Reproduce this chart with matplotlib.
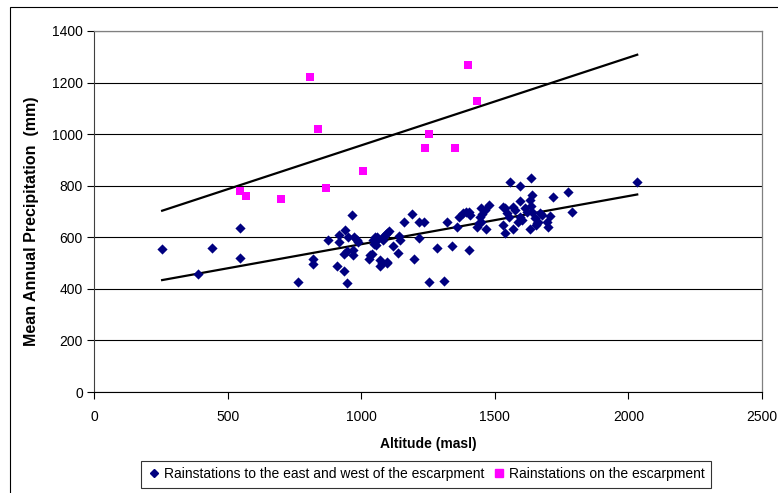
import matplotlib
matplotlib.use("Agg")
import matplotlib.pyplot as plt
from matplotlib.patches import Rectangle
from matplotlib.lines import Line2D

plt.rcParams['font.family'] = ['Liberation Sans', 'DejaVu Sans']

# Rainstations to the east and west of the escarpment
other_alt = [255, 390, 440, 546, 546, 763, 821, 821, 877, 908, 918, 918, 937, 941, 948,
             936, 948, 952, 966, 970, 970, 974, 983, 989,
             1029, 1033, 1039, 1045, 1052, 1058, 1048, 1055, 1060, 1070, 1070, 1077, 1095,
             1098, 1083, 1089, 1098, 1105, 1083, 1120, 1139, 1145, 1143,
             1160, 1189, 1196, 1218, 1218, 1235, 1252, 1282, 1311, 1320, 1341, 1357, 1366,
             1382, 1392, 1405, 1407, 1403, 1432, 1442, 1445, 1451, 1448, 1463, 1479, 1467, 1447,
             1529, 1538, 1544, 1554, 1532, 1538, 1569, 1567, 1576, 1594, 1600, 1588, 1594,
             1612, 1621, 1634, 1632, 1638, 1638, 1650, 1654, 1669, 1663, 1676, 1694, 1700,
             1707, 1719, 1632, 1659, 1557, 1594, 1634, 1773, 1788, 2033]
other_prec = [555, 458, 558, 637, 520, 427, 515, 495, 590, 490, 607, 580, 470, 628, 423,
              536, 545, 602, 686, 531, 551, 600, 589, 580,
              516, 531, 534, 589, 600, 602, 573, 570, 590, 512, 489, 499, 499,
              505, 600, 609, 618, 624, 589, 566, 540, 589, 605,
              658, 689, 516, 596, 658, 658, 428, 557, 431, 658, 566, 641, 677,
              693, 697, 699, 686, 551, 641, 654, 680, 689, 715, 706, 725, 631, 660,
              718, 712, 695, 680, 648, 618, 631, 718, 706, 742, 667, 658, 680,
              712, 699, 721, 744, 764, 699, 673, 647, 693, 660, 686, 660, 641,
              682, 757, 634, 654, 813, 800, 829, 777, 697, 813]

# Rainstations on the escarpment
esc_alt = [808, 1400, 1433, 838, 1252, 1240, 1350, 1007, 546, 569, 700, 868]
esc_prec = [1220, 1270, 1130, 1020, 1000, 948, 948, 856, 780, 760, 750, 790]

# Trend lines (end points)
trend_alt = [255, 2033]
esc_trend = [703, 1308]
other_trend = [434, 766]

x_ticks = [0, 500, 1000, 1500, 2000, 2500]
y_ticks = [0, 200, 400, 600, 800, 1000, 1200, 1400]

W, H = 778, 493
fig = plt.figure(figsize=(W / 100, H / 100), dpi=100)
fig.patch.set_facecolor('white')

L, R, T, B = 94, 762, 31, 392
ax = fig.add_axes([L / W, 1 - B / H, (R - L) / W, (B - T) / H])

ax.set_xlim(0, 2500)
ax.set_ylim(0, 1400)
ax.set_xticks(x_ticks)
ax.set_yticks(y_ticks)
ax.grid(axis='y', color='black', linewidth=0.8)
ax.set_axisbelow(True)

ax.plot(trend_alt, esc_trend, color='black', linewidth=1.6, zorder=2)
ax.plot(trend_alt, other_trend, color='black', linewidth=1.6, zorder=2)

ax.scatter(other_alt, other_prec, marker='D', s=27, color='#000080', linewidths=0, zorder=3)
ax.scatter(esc_alt, esc_prec, marker='s', s=40, color='#FF00FF', linewidths=0, zorder=3)

for side in ['top', 'right']:
    ax.spines[side].set_color('#808080')
    ax.spines[side].set_linewidth(0.9)
ax.spines['left'].set_color('#404040')
ax.spines['bottom'].set_color('black')
ax.tick_params(axis='both', direction='out', length=5, width=0.8, colors='black',
               labelsize=10, pad=3)
ax.tick_params(axis='x', pad=8)

ax.set_xlabel('Altitude (masl)', fontsize=10, fontweight='bold', labelpad=9)
ax.set_ylabel('Mean Annual Precipitation  (mm)', fontsize=11.5, fontweight='bold')
ax.yaxis.set_label_coords(-0.082, 0.474)

# outer chart border
fig.add_artist(Rectangle((10 / W, -0.1), 2, 1 - 7 / H + 0.1, transform=fig.transFigure,
                         fill=False, edgecolor='black', linewidth=0.8))

handles = [Line2D([], [], marker='D', linestyle='none', color='#000080', markersize=4.5),
           Line2D([], [], marker='s', linestyle='none', color='#FF00FF', markersize=6)]
leg = fig.legend(handles,
                 ['Rainstations to the east and west of the escarpment',
                  'Rainstations on the escarpment'],
                 loc='upper center', bbox_to_anchor=(426 / W, 1 - 461 / H), ncol=2,
                 fontsize=10, frameon=True, fancybox=False, edgecolor='black',
                 handletextpad=0.2, columnspacing=0.6, handlelength=1.0,
                 borderpad=0.45, borderaxespad=0)
leg.get_frame().set_linewidth(0.8)

fig.savefig('out.png', dpi=100)
